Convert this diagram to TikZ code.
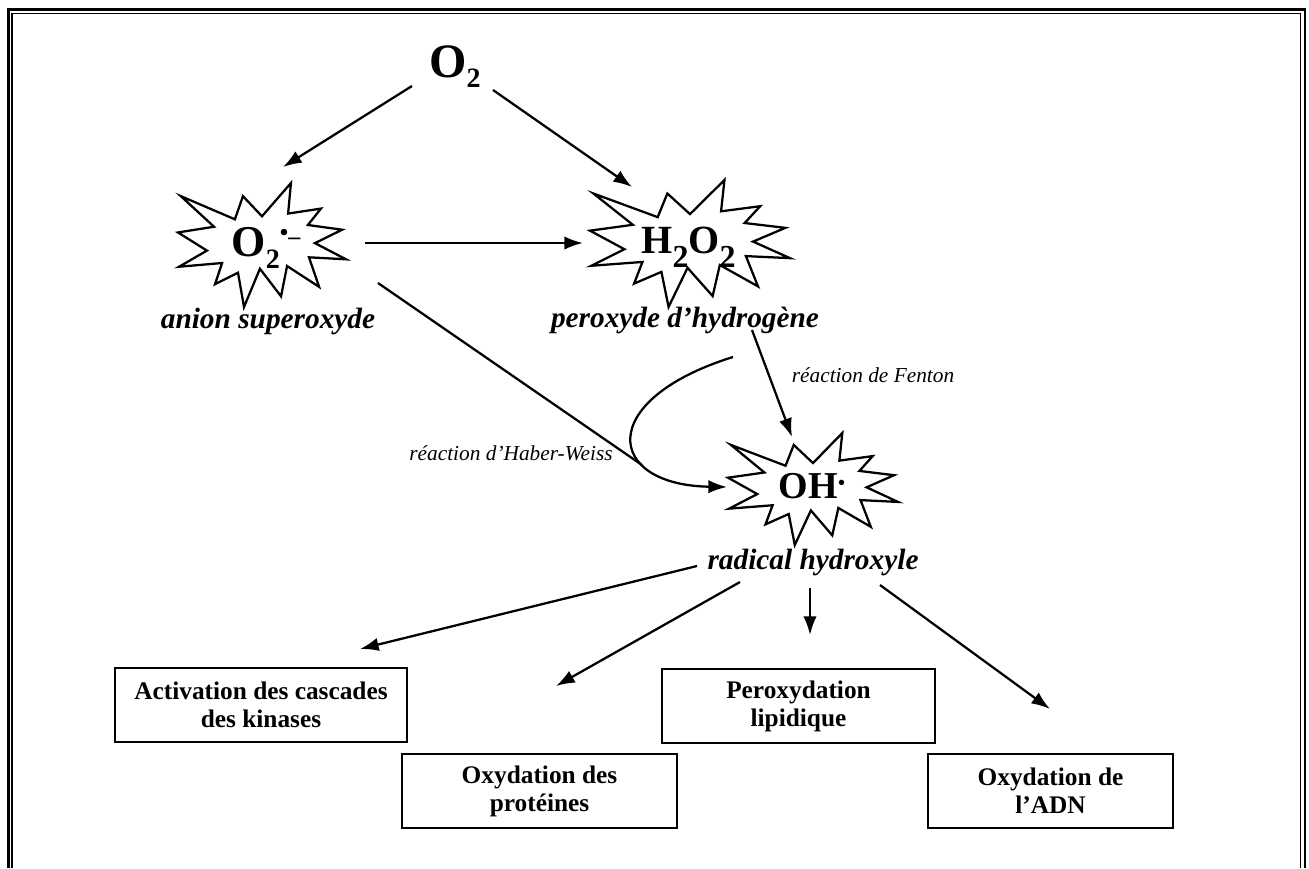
\documentclass[tikz,border=0pt]{standalone}
\usepackage{fontspec}
\setmainfont{Liberation Serif}
\usetikzlibrary{arrows.meta,calc}
\newcommand\fz[1]{\fontsize{#1pt}{#1pt}\selectfont}
\newcommand\bxfont{\bfseries\fontsize{19pt}{21pt}\selectfont}
\newcommand\lbfont{\bfseries\itshape\fontsize{22pt}{24pt}\selectfont}
\newcommand\smfont{\itshape\fontsize{16pt}{18pt}\selectfont}
\tikzset{
  explosion/.pic={\draw[burst] (108,58) -- (145.22,0) -- (141.55,53.25) -- (183.80,44.57) -- (167.02,73.15) -- (210.97,81.37) -- (176.07,104.75) -- (216,132.90) -- (168.37,129.42) -- (181.45,180.95) -- (140.20,144.57) -- (132.47,197.37) -- (105.32,149.35) -- (84.85,216) -- (77.15,156.27) -- (47.62,176.17) -- (56.67,139.37) -- (1.35,145.87) -- (37.22,117.75) -- (0,86.15) -- (46.27,76.17) -- (3.70,22.95) -- (73.12,63.20) -- (83.52,22.95) -- cycle;},
  burst/.style={line width=1.7pt, line join=miter},
  arr/.style={line width=1.7pt,-{Latex[length=14pt,width=10pt]}},
  ln/.style={line width=1.7pt},
  box/.style={draw,line width=1.5pt,align=center,inner sep=0pt,font=\bxfont},
  lab/.style={anchor=base,font=\lbfont,inner sep=0pt},
  sm/.style={anchor=base,font=\smfont,inner sep=0pt},
  chem/.style={anchor=base,inner sep=0pt}
}
\begin{document}
\begin{tikzpicture}[x=0.75pt,y=-0.75pt]
\useasboundingbox (0,0) rectangle (1309,868);
% frame
\draw[line width=2pt] (8.7,868) -- (8.7,9.7) -- (1305,9.7) -- (1305,868);
\draw[line width=1pt] (12,868) -- (12,13.3) -- (1300.5,13.3) -- (1300.5,868);

% explosions
\pic[xscale=0.7778,yscale=0.5741] at (178,183) {explosion};
\pic[xscale=0.9259,yscale=0.5880] at (590,180) {explosion};
\pic[xscale=0.7870,yscale=0.5185] at (728,433) {explosion};

% chemical nodes
\node[chem] (o2) at (455,77) {\bfseries\fz{36}O\raisebox{-8pt}{\fz{21}2}};
\node[chem] (o2s) at (266,256) {\bfseries\fz{33}O\raisebox{-9.5pt}{\fz{21}2}\raisebox{11.5pt}{\fz{18}\textbullet}\raisebox{9pt}{\fz{18}–}};
\node[chem] (h2o2) at (688.5,253) {\bfseries\fz{30}H\raisebox{-10.5pt}{\fz{24}2}O\raisebox{-10.5pt}{\fz{24}2}};
\node[chem] (oh) at (812,498) {\bfseries\fz{28.5}OH\raisebox{6.7pt}{\fz{15}\textbullet}};

% labels
\node[lab] (l1) at (268,328) {anion superoxyde};
\node[lab] (l2) at (685,327) {peroxyde d’hydrogène};
\node[lab] (l3) at (813,569) {radical hydroxyle};
\node[sm] (fen) at (873,382) {réaction de Fenton};
\node[sm] (hab) at (511,460) {réaction d’Haber-Weiss};

% boxes
\node[box,minimum width=219pt,minimum height=55.5pt] (b1) at (261,705) {Activation des cascades\\des kinases};
\node[box,minimum width=206pt,minimum height=55.5pt] (b2) at (539.5,791) {Oxydation des\\protéines};
\node[box,minimum width=205pt,minimum height=55.5pt] (b3) at (798.5,706) {Peroxydation\\lipidique};
\node[box,minimum width=184pt,minimum height=55.5pt] (b4) at (1050.5,791) {Oxydation de\\l’ADN};

% connectors
\draw[arr] ($(o2.base)+(-43,9)$) -- ($(o2s.base)+(17,-89)$);
\draw[arr] ($(o2.base)+(38,13)$) -- ($(h2o2.base)+(-56.5,-66)$);
\draw[arr] ($(o2s.base)+(99,-13)$) -- ($(h2o2.base)+(-105.5,-10)$);
\coordinate (join) at ($(oh.base)+(-170,-33)$);
\draw[ln] ($(o2s.base)+(112,27)$) -- (join);
\draw[arr] ($(l2.base)+(48,30)$) .. controls +(-138,43) and +(-122,-2) .. ($(oh.base)+(-85,-11)$);
\draw[arr] ($(l2.base)+(67,3)$) -- ($(oh.base)+(-20,-61)$);
\draw[arr] ($(l3.base)+(-116,-3)$) -- ($(b1.north)+(99,-18)$);
\draw[arr] ($(l3.base)+(-73,13)$) -- ($(b2.north)+(16.5,-67)$);
\draw[arr] ($(l3.base)+(-3,19)$) -- ($(b3.north)+(11.5,-33)$);
\draw[arr] ($(l3.base)+(67,16)$) -- ($(b4.north)+(-0.5,-44)$);
\end{tikzpicture}
\end{document}
